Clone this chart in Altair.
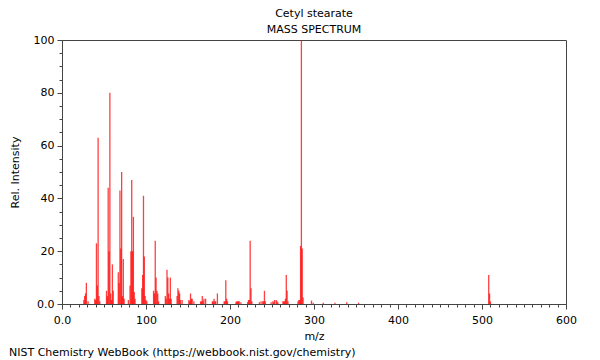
import altair as alt
import pandas as pd

# m/z values and relative intensities
mz = [26, 27, 28, 29, 31, 39, 40, 41, 42, 43, 44, 45,
      53, 54, 55, 56, 57, 58, 59, 60, 61,
      67, 68, 69, 70, 71, 72, 73, 74,
      79, 81, 82, 83, 84, 85, 86, 87,
      95, 96, 97, 98, 99, 100, 101,
      109, 110, 111, 112, 113, 114, 115,
      123, 124, 125, 126, 127, 128, 129, 130,
      137, 138, 139, 140, 141, 143,
      151, 152, 153, 154, 155, 157,
      165, 166, 167, 168, 169, 171,
      179, 180, 181, 182, 183, 185,
      193, 194, 195, 196, 197,
      207, 208, 209, 210, 211, 213,
      221, 222, 223, 224, 225, 226,
      235, 237, 239, 240, 241, 242,
      249, 251, 252, 253, 255, 256, 257,
      263, 264, 265, 266, 267, 268, 269,
      281, 282, 283, 284, 285, 286, 287,
      297, 299, 311, 325, 339, 353,
      508, 509, 510]
intensity = [1.5, 3, 4, 8, 1, 2, 1.5, 23, 7, 63, 3, 1,
             5, 3, 44, 20, 80, 4, 1.5, 15, 5,
             12, 8, 43, 21, 50, 3, 17, 2,
             1.5, 7, 20, 47, 20, 33, 4.5, 2,
             6, 11, 41, 18, 3, 1.5, 1,
             5, 4, 24, 10, 5, 4, 1,
             3, 2, 13, 10, 4, 2, 10, 2,
             3, 6, 5, 4, 1.5, 1.5,
             1.5, 1, 4, 2, 2, 1,
             1, 1, 3, 1, 2, 2,
             1, 1, 2, 1, 1, 4,
             1, 1, 9, 2, 1,
             0.7, 1, 1, 1, 1, 0.7,
             0.7, 1.5, 1.5, 24, 6, 1,
             0.7, 1, 1, 1, 5, 1,
             0.7, 1, 0.7, 1.5, 1.5, 1, 0.7,
             1, 1, 1, 2, 11, 5, 1,
             1, 1.5, 1.5, 22, 100, 21, 2.5,
             1.3, 0.5, 0.5, 0.5, 0.7, 0.5,
             11, 4, 1]

chart_title = "Cetyl stearate"
chart_subtitle = "MASS SPECTRUM"
footer_text = "NIST Chemistry WebBook (https://webbook.nist.gov/chemistry)"

x_ticks = list(range(0, 601, 10))
y_ticks = list(range(0, 101, 5))

FONT = "DejaVu Sans"

df = pd.DataFrame({"mz": mz, "intensity": intensity})

peaks = alt.Chart(df).mark_rule(color="#ff0000", strokeWidth=1.3, opacity=0.75).encode(
    x=alt.X("mz:Q", scale=alt.Scale(domain=[0, 600], nice=False, zero=False),
            axis=alt.Axis(title="m/z", values=x_ticks,
                          labelExpr="datum.value % 100 === 0 ? (datum.value === 0 ? '0.0' : datum.label) : ''",
                          tickSize={"condition": {"test": "datum.value % 100 === 0", "value": 5}, "value": 3},
                          labelOverlap=False, labelPadding=5, titlePadding=5, grid=False,
                          labelFlush=False)),
    y=alt.Y("intensity:Q", scale=alt.Scale(domain=[0, 100], nice=False),
            axis=alt.Axis(title="Rel. Intensity", values=y_ticks,
                          labelExpr="datum.value % 20 === 0 ? (datum.value === 0 ? '0.0' : datum.label) : ''",
                          tickSize={"condition": {"test": "datum.value % 20 === 0", "value": 5}, "value": 3},
                          labelOverlap=False, labelPadding=3, titlePadding=13, grid=False,
                          labelFlush=False)),
    y2=alt.datum(0),
)

one = pd.DataFrame({"k": [0]})


def text_layer(txt, x, y, align):
    return alt.Chart(one).mark_text(font=FONT, fontSize=11, color="#000", align=align,
                                    baseline="middle", text=txt).encode(
        x=alt.value(x), y=alt.value(y))


title1 = text_layer(chart_title, 252, -26, "center")
title2 = text_layer(chart_subtitle, 252, -10, "center")
footer = text_layer(footer_text, -53, 313, "left")

chart = alt.layer(peaks, title1, title2, footer).properties(
    width=504, height=264,
    autosize=alt.AutoSizeParams(type="none"),
    padding={"left": 54, "top": 32, "right": 26, "bottom": 56},
).configure_view(stroke="#444", strokeWidth=1).configure_axis(
    labelFont=FONT, titleFont=FONT, labelFontSize=11, titleFontSize=11,
    titleFontWeight="normal", labelColor="#000", titleColor="#000",
    domainColor="#444", tickColor="#444",
)

chart.save("out.html", embed_options={"renderer": "svg", "actions": False})
